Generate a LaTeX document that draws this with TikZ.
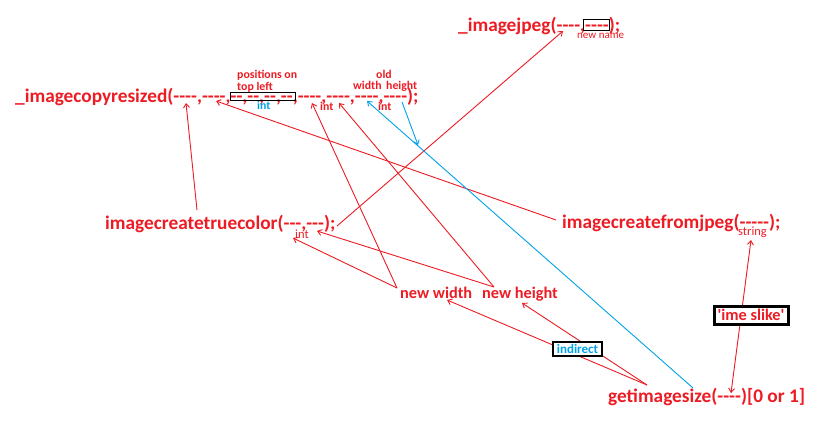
\documentclass[tikz,border=0pt]{standalone}
\usepackage{fontspec}
\setmainfont{Carlito}[Ligatures=TeXOff]
\usetikzlibrary{arrows.meta}
\definecolor{pred}{RGB}{237,28,36}
\definecolor{pblue}{RGB}{0,162,232}
\tikzset{
  big/.style={text=pred, font=\fontsize{19.3}{21}\selectfont\bfseries, inner sep=0pt, anchor=base west},
  mid/.style={text=pred, font=\fontsize{16.3}{18}\selectfont\bfseries, inner sep=0pt, anchor=base west},
  lbl/.style={text=pred, font=\fontsize{11.8}{13}\selectfont\bfseries, inner sep=0pt, anchor=base west},
  lblb/.style={lbl, text=pblue},
  tiny/.style={text=pred, font=\fontsize{12.5}{13}\selectfont, inner sep=0pt, anchor=base west},
  link/.style={draw=pred, line width=0.9pt},
  blink/.style={draw=pblue, line width=0.9pt},
  tip/.style={-{Straight Barb[length=4pt,width=6pt]}},
  argbox/.style={draw=black, line width=1pt},
  framed/.style={draw=black, fill=white, inner sep=0pt}
}
\begin{document}
\begin{tikzpicture}[x=1pt,y=-1pt]
\useasboundingbox[fill=white] (0,0) rectangle (834,447);

% main texts
\node[big] (jp) at (458,31) {\_imagejpeg(----,----);};
\node[big] (cr) at (15,102) {\_imagecopyresized(----,----,--,--,--,--,----,----,----,----);};
\node[big] (tc) at (105,229) {imagecreatetruecolor(---,---);};
\node[big] (fj) at (562,228) {imagecreatefromjpeg(-----);};
\node[mid] (nw) at (400,298) {new width};
\node[mid] (nh) at (482,298) {new height};
\node[big] (gs) at (608,402) {getimagesize(----)[0 or 1]};

% small labels
\node[lbl] (pos1) at (237,78) {positions on};
\node[lbl] (pos2) at (237,90) {top left};
\node[lblb] (intb) at (257,109) {int};
\node[lbl] (int1) at (320,110) {int};
\node[lbl] (old) at (376,78) {old};
\node[lbl] (wid) at (353,89) {width};
\node[lbl] (hei) at (386,89) {height};
\node[lbl] (int2) at (378,110) {int};
\node[tiny, font=\fontsize{11}{12}\selectfont] (nname) at (577,38) {new name};
\node[tiny] (str) at (738,235) {string};
\node[tiny] (int3) at (295,238) {int};

% boxes around arguments
\draw[argbox] (230,92.3) rectangle (295,100.7);
\draw[argbox] (583,19) rectangle (609,30);

% connector end points
\coordinate (a1) at (186,103);
\coordinate (tctop) at (197,210);
\coordinate (a2) at (216,101);
\coordinate (fjleft) at (556,220);
\coordinate (jp1) at (563,31);
\coordinate (tcend) at (337,226);
\coordinate (a7) at (312,103);
\coordinate (nwA) at (397,288);
\coordinate (a8) at (339,103);
\coordinate (nhA) at (494,287);
\coordinate (tci1) at (293,238);
\coordinate (tci2) at (317,231);
\coordinate (ow) at (367,101);
\coordinate (gstop) at (693,388);
\coordinate (oh) at (402,102);
\coordinate (junc) at (418,145);
\coordinate (gsA) at (647,385);
\coordinate (nwB) at (447,300);
\coordinate (nhB) at (522,303);
\coordinate (strA) at (751,240);
\coordinate (gsarg) at (731,393);

% red connectors
\draw[link,tip] (tctop) -- (a1);
\draw[link,tip] (fjleft) -- (a2);
\draw[link,tip] (tcend) -- (jp1);
\draw[link,tip] (nwA) -- (a7);
\draw[link,tip] (nhA) -- (a8);
\draw[link,tip] (nwA) -- (tci1);
\draw[link,tip] (nhA) -- (tci2);
\draw[link,tip] (gsA) -- (nwB);
\draw[link,tip] (gsA) -- (nhB);
\draw[link,{Straight Barb[length=4pt,width=6pt]}-{Straight Barb[length=4pt,width=6pt]}] (gsarg) -- (strA);

% blue connectors
\draw[blink,tip] (gstop) -- (ow);
\draw[blink,tip] (oh) -- (junc);

% framed notes
\node[framed, line width=2.5pt, minimum width=49pt, minimum height=14pt,
      text=pblue, font=\fontsize{13}{14}\selectfont\bfseries] (ind) at (577.5,349) {indirect};
\node[framed, line width=3pt, minimum width=74pt, minimum height=18pt,
      text=pred, font=\fontsize{16.3}{18}\selectfont\bfseries] (ime) at (751,315) {'ime slike'};
\end{tikzpicture}
\end{document}
